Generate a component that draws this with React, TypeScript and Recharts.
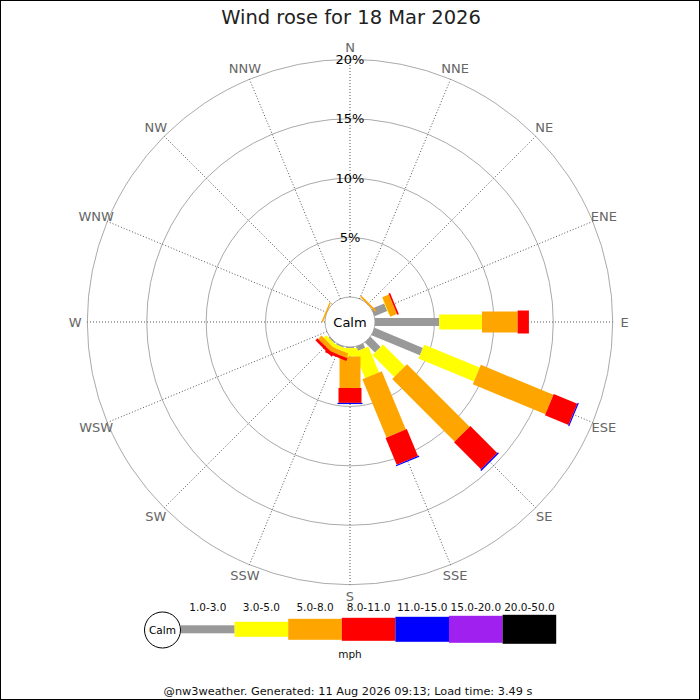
import { RadialBarChart, RadialBar, PolarGrid, PolarAngleAxis, PolarRadiusAxis } from 'recharts';

// compass sectors, clockwise from north
const directions = ['N', 'NNE', 'NE', 'ENE', 'E', 'ESE', 'SE', 'SSE', 'S', 'SSW', 'SW', 'WSW', 'W', 'WNW', 'NW', 'NNW'];

// % of time in each speed band (mph), per direction
const band1to3 = [0, 0, 0, 1.15, 5.4, 4.4, 1.2, 0.4, 0.1, 0.1, 0.1, 0, 0, 0, 0, 0];
const band3to5 = [0, 0, 0, 0.05, 3.6, 5.05, 2.6, 2.35, 0.7, 0.3, 0.3, 0, 0, 0, 0, 0];
const band5to8 = [0, 0, 0.15, 0.6, 3.0, 6.6, 7.45, 5.3, 2.65, 0.4, 0.4, 0, 0, 0.12, 0, 0];
const band8to11 = [0, 0, 0, 0.15, 0.95, 2.15, 3.2, 2.45, 1.25, 0.25, 0.25, 0, 0, 0, 0, 0];
const band11to15 = [0, 0, 0, 0, 0, 0.1, 0.12, 0.1, 0.1, 0, 0, 0, 0, 0, 0, 0];
const band15to20 = [0, 0, 0, 0, 0, 0, 0, 0, 0, 0, 0, 0, 0, 0, 0, 0];
const band20to50 = [0, 0, 0, 0, 0, 0, 0, 0, 0, 0, 0, 0, 0, 0, 0, 0];

const speedLabels = ['1.0-3.0', '3.0-5.0', '5.0-8.0', '8.0-11.0', '11.0-15.0', '15.0-20.0', '20.0-50.0'];
const radiusTicks = [0, 5, 10, 15, 20];

const bandValues = [band1to3, band3to5, band5to8, band8to11, band11to15, band15to20, band20to50];
const bandColors = ['#999999', '#ffff00', '#ffa500', '#ff0000', '#0000ff', '#a020f0', '#000000'];
const bandWidths = [8, 15, 21, 23, 25, 27, 29];

const data = directions.map((dir, i) => {
  const row: any = { dir };
  bandValues.forEach((vals, b) => { row['b' + b] = vals[i]; });
  return row;
});

const CX = 350;
const CY = 322;
const INNER = 25;
const OUTER = 262.7;
const FONT = '"DejaVu Sans", sans-serif';
const HALF_SECTOR = 180 / directions.length;

// draws a stacked segment as a straight bar of fixed width along the direction's angle
// (the sector recharts hands over starts at the tick and spans one band, so step back half a band)
const barShape = (width: number) => (props: any) => {
  const { cx, cy, innerRadius, outerRadius, startAngle, endAngle, fill } = props;
  if (!(outerRadius - innerRadius > 0.05)) return <g />;
  const mid = ((startAngle + endAngle) / 2 - HALF_SECTOR) * Math.PI / 180;
  const ux = Math.cos(-mid);
  const uy = Math.sin(-mid);
  const nx = -uy * width / 2;
  const ny = ux * width / 2;
  const pt = (r: number, s: number) => `${cx + ux * r + s * nx},${cy + uy * r + s * ny}`;
  return (
    <polygon
      points={[pt(innerRadius, 1), pt(outerRadius, 1), pt(outerRadius, -1), pt(innerRadius, -1)].join(' ')}
      fill={fill}
    />
  );
};

const AngleTick = (props: any) => {
  const { payload } = props;
  const a = payload.coordinate * Math.PI / 180;
  const r = OUTER + 12;
  return (
    <text x={CX + Math.cos(-a) * r} y={CY + Math.sin(-a) * r} textAnchor="middle" dominantBaseline="central"
      fontFamily={FONT} fontSize={13} fill="#666">
      {payload.value}
    </text>
  );
};

const RadiusTick = (props: any) => {
  const { x, y, payload } = props;
  if (payload.value === 0) return <g />;
  return (
    <text x={x} y={y} textAnchor="middle" dominantBaseline="central" fontFamily={FONT} fontSize={13} fill="#000">
      {payload.value}%
    </text>
  );
};

export default function App() {
  const legendX0 = 181;
  const legendW = 53.6;
  return (
    <div style={{ position: 'absolute', left: 0, top: 0, width: 700, height: 700, background: '#fff' }}>
      <RadialBarChart
        width={700}
        height={700}
        data={data}
        cx={CX}
        cy={CY}
        innerRadius={INNER}
        outerRadius={OUTER}
        startAngle={90}
        endAngle={-270}
        layout="centric"
        margin={{ top: 0, right: 0, bottom: 0, left: 0 }}
      >
        <PolarGrid gridType="circle" radialLines={false} stroke="#aaaaaa" />
        <PolarGrid gridType="circle" polarRadius={[]} stroke="#555" strokeDasharray="1 2" />
        <PolarAngleAxis dataKey="dir" type="category" axisLine={false} tickLine={false} tick={<AngleTick />} />
        <PolarRadiusAxis type="number" domain={[0, 20]} ticks={radiusTicks} angle={90}
          axisLine={false} tickLine={false} tick={<RadiusTick />} />
        {bandColors.map((c, b) => (
          <RadialBar key={b} dataKey={'b' + b} stackId="a" fill={c} shape={barShape(bandWidths[b])}
            isAnimationActive={false} />
        ))}
      </RadialBarChart>
      <svg width={700} height={700} style={{ position: 'absolute', left: 0, top: 0, pointerEvents: 'none' }}>
        <rect x={0.5} y={0.5} width={699} height={699} fill="none" stroke="#000" />
        <text x={351} y={17} textAnchor="middle" dominantBaseline="central" fontFamily={FONT} fontSize={19.5} fill="#222">
          Wind rose for 18 Mar 2026
        </text>
        <text x={CX} y={CY} textAnchor="middle" dominantBaseline="central" fontFamily={FONT} fontSize={13} fill="#000">
          Calm
        </text>
        <circle cx={162.5} cy={630} r={18} fill="#fff" stroke="#000" />
        <text x={162.5} y={630} textAnchor="middle" dominantBaseline="central" fontFamily={FONT} fontSize={10.5} fill="#000">
          Calm
        </text>
        {speedLabels.map((lab, b) => (
          <g key={lab}>
            <rect x={legendX0 + b * legendW} y={629.3 - bandWidths[b] / 2} width={legendW} height={bandWidths[b]}
              fill={bandColors[b]} />
            <text x={legendX0 + (b + 0.5) * legendW} y={607} textAnchor="middle" dominantBaseline="central"
              fontFamily={FONT} fontSize={10.5} fill="#111">
              {lab}
            </text>
          </g>
        ))}
        <text x={350} y={654} textAnchor="middle" dominantBaseline="central" fontFamily={FONT} fontSize={10.5} fill="#111">
          mph
        </text>
        <text x={348} y={691} textAnchor="middle" dominantBaseline="central" fontFamily={FONT} fontSize={11.3} fill="#111">
          @nw3weather. Generated: 11 Aug 2026 09:13; Load time: 3.49 s
        </text>
      </svg>
    </div>
  );
}
